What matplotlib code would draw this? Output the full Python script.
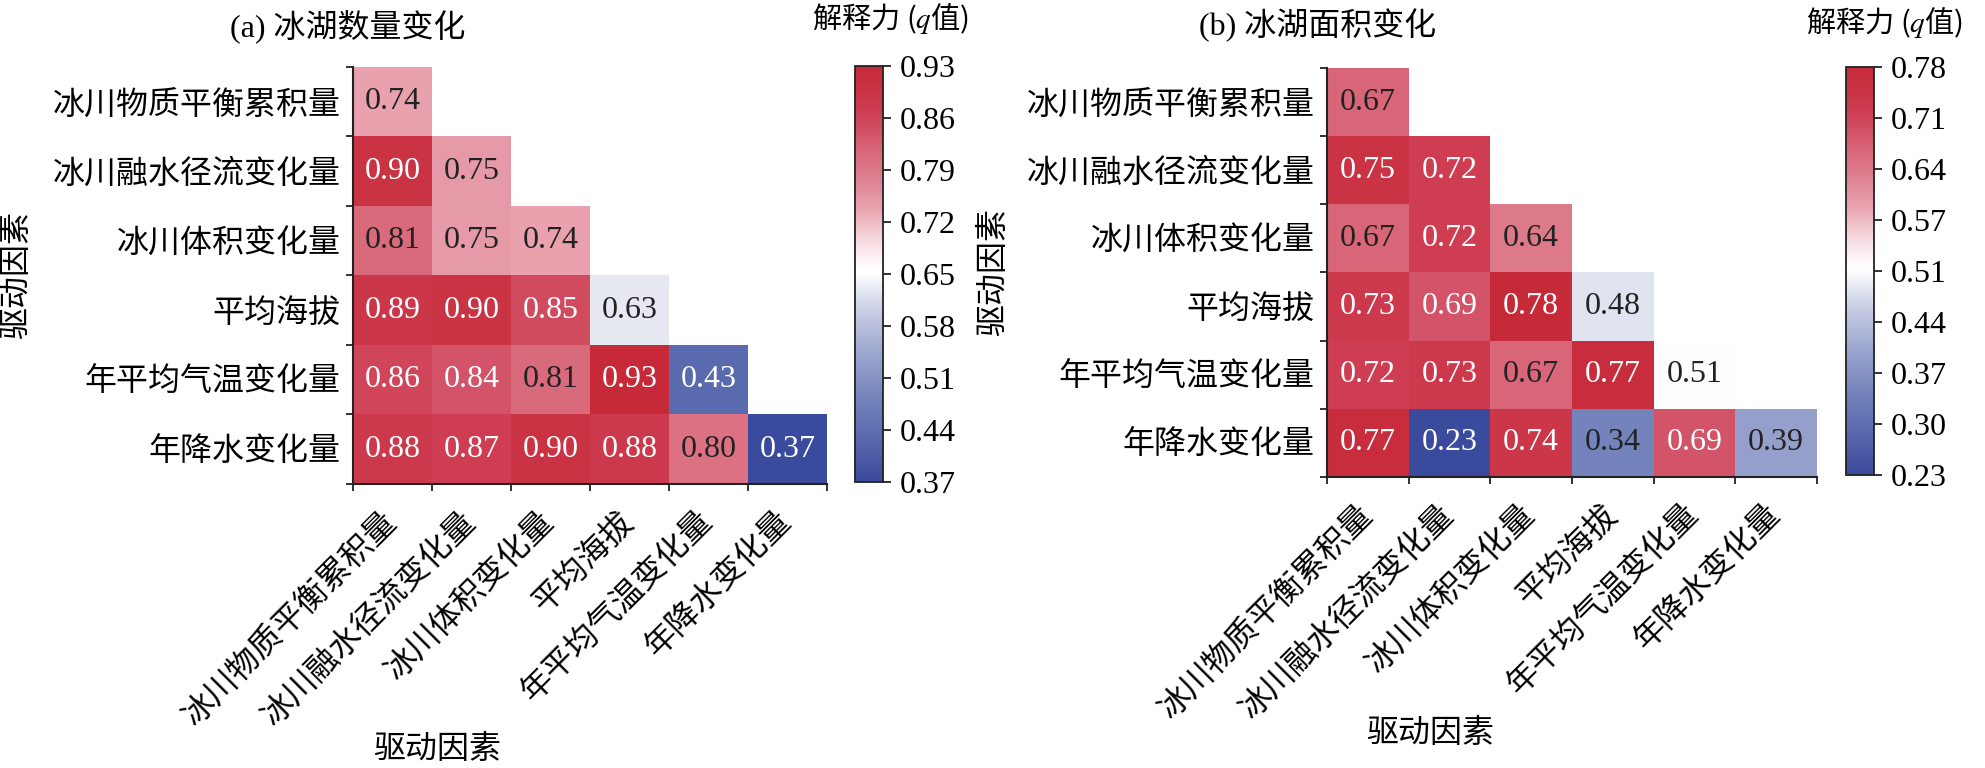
import numpy as np
import matplotlib
matplotlib.use('Agg')
import matplotlib.pyplot as plt
from matplotlib.colors import LinearSegmentedColormap, Normalize

plt.rcParams['font.family'] = ['Liberation Serif', 'Noto Sans CJK SC']
plt.rcParams['mathtext.fontset'] = 'stix'
plt.rcParams['font.size'] = 23

# 驱动因素
factors = ['冰川物质平衡累积量', '冰川融水径流变化量', '冰川体积变化量',
           '平均海拔', '年平均气温变化量', '年降水变化量']

# (a) 冰湖数量变化, lower triangle rows
q_count = [[0.74],
           [0.90, 0.75],
           [0.81, 0.75, 0.74],
           [0.89, 0.90, 0.85, 0.63],
           [0.86, 0.84, 0.81, 0.93, 0.43],
           [0.88, 0.87, 0.90, 0.88, 0.80, 0.37]]
cbar_labels_a = ['0.37', '0.44', '0.51', '0.58', '0.65', '0.72', '0.79', '0.86', '0.93']

# (b) 冰湖面积变化
q_area = [[0.67],
          [0.75, 0.72],
          [0.67, 0.72, 0.64],
          [0.73, 0.69, 0.78, 0.48],
          [0.72, 0.73, 0.67, 0.77, 0.51],
          [0.77, 0.23, 0.74, 0.34, 0.69, 0.39]]
cbar_labels_b = ['0.23', '0.30', '0.37', '0.44', '0.51', '0.57', '0.64', '0.71', '0.78']

cmap = LinearSegmentedColormap.from_list('bwr_q', [
    (0.00, '#3A4A9C'), (0.10, '#5868AD'), (0.20, '#7483BB'), (0.30, '#98A3CD'),
    (0.40, '#C4CAE2'), (0.45, '#DDE0EE'), (0.50, '#FFFFFF'), (0.52, '#FEFAFB'),
    (0.56, '#F9E6EA'), (0.60, '#F2CCD3'), (0.66, '#E8A2AE'), (0.75, '#DC7888'),
    (0.80, '#D86678'), (0.85, '#D24E63'), (0.90, '#CD3B4F'), (1.00, '#C62A38')])

dark = '#222222'


def draw(ax, cax, rows, cbar_labels):
    n = len(factors)
    m = np.full((n, n), np.nan)
    for i, r in enumerate(rows):
        m[i, :len(r)] = r
    vmin, vmax = np.nanmin(m), np.nanmax(m)
    norm = Normalize(vmin, vmax)
    mesh = ax.pcolormesh(np.ma.masked_invalid(m), cmap=cmap, norm=norm)
    ax.set_xlim(0, n)
    ax.set_ylim(n, 0)
    for i, r in enumerate(rows):
        for j, v in enumerate(r):
            t = norm(v)
            c = 'white' if (t > 0.82 or t < 0.15) else dark
            ax.text(j + 0.5, i + 0.5, f'{v:.2f}', ha='center', va='center',
                    color=c)
    ax.set_xticks(np.arange(n) + 0.5)
    ax.set_yticks(np.arange(n) + 0.5)
    ax.set_xticklabels(factors, rotation=45, ha='right', va='center',
                       rotation_mode='anchor')
    ax.set_yticklabels(factors)
    ax.set_xticks(np.arange(n + 1), minor=True)
    ax.set_yticks(np.arange(n + 1), minor=True)
    ax.tick_params(which='major', length=0)
    ax.tick_params(axis='y', which='major', pad=9)
    ax.tick_params(axis='x', which='major', pad=24)
    ax.tick_params(which='minor', length=5, width=1.3, direction='out', color=dark)
    for s in ['top', 'right']:
        ax.spines[s].set_visible(False)
    for s in ['left', 'bottom']:
        ax.spines[s].set_linewidth(1.5)
        ax.spines[s].set_color(dark)

    cb = plt.colorbar(mesh, cax=cax)
    cb.set_ticks(np.linspace(vmin, vmax, 9))
    cb.set_ticklabels(cbar_labels)
    cb.outline.set_linewidth(1.3)
    cb.outline.set_edgecolor(dark)
    cax.tick_params(length=6, width=1.3, pad=6, color=dark)
    return mesh


fig = plt.figure(figsize=(19.85, 7.68), dpi=100)
ax_a = fig.add_axes([0.1778, 0.3698, 0.2388, 0.543])
cax_a = fig.add_axes([0.4307, 0.3724, 0.0141, 0.5417])
ax_b = fig.add_axes([0.6685, 0.3789, 0.2469, 0.5326])
cax_b = fig.add_axes([0.930, 0.3815, 0.0141, 0.5313])

draw(ax_a, cax_a, q_count, cbar_labels_a)
draw(ax_b, cax_b, q_area, cbar_labels_b)

for ax, xc, yc in [(ax_a, (0.177, -0.638), (-0.709, 0.5)),
                   (ax_b, (0.210, -0.628), (-0.680, 0.5))]:
    ax.set_xlabel('驱动因素', va='center')
    ax.set_ylabel('驱动因素', va='center')
    ax.xaxis.set_label_coords(*xc)
    ax.yaxis.set_label_coords(*yc)

fig.text(348 / 1985, 1 - 27 / 768, '(a) 冰湖数量变化', ha='center', va='center')
fig.text(1318 / 1985, 1 - 25 / 768, '(b) 冰湖面积变化', ha='center', va='center')
fig.text(890 / 1985, 1 - 19 / 768, '解释力 ($q$值)', ha='center', va='center',
         family='Noto Sans CJK SC', fontsize=21)
fig.text(1884 / 1985, 1 - 23 / 768, '解释力 ($q$值)', ha='center', va='center',
         family='Noto Sans CJK SC', fontsize=21)

fig.savefig('out.png', dpi=100)
